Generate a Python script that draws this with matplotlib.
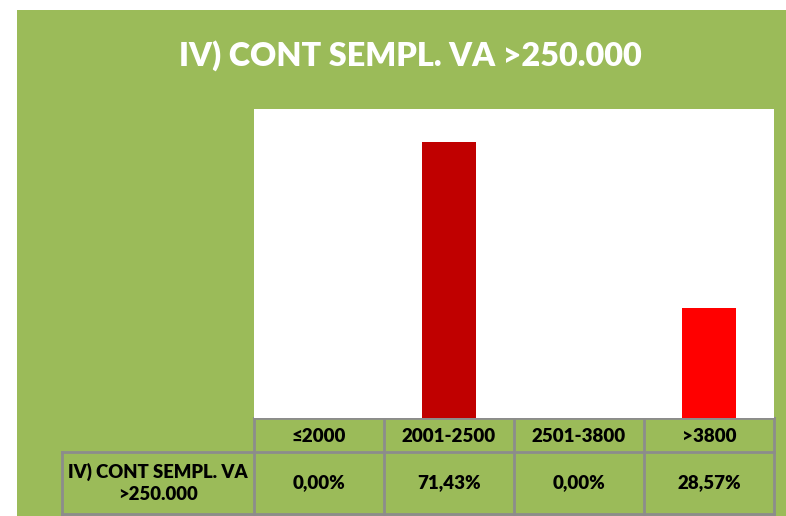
import matplotlib
matplotlib.use("Agg")
import matplotlib.pyplot as plt
from matplotlib.patches import Rectangle

# ---- data ----
title = "IV) CONT SEMPL. VA >250.000"
series_name = "IV) CONT SEMPL. VA\n>250.000"
categories = ["≤2000", "2001-2500", "2501-3800", ">3800"]
values = [0.0, 71.43, 0.0, 28.57]
bar_colors = ["#C00000", "#C00000", "#C00000", "#FF0000"]

W, H = 786, 516
GREEN = "#9BBB59"
GRID = "#8C8C8C"
FONT = ["Lato", "DejaVu Sans"]
WEIGHT = "heavy"

fig = plt.figure(figsize=(W / 100, H / 100), dpi=100)
fig.patch.set_facecolor("white")

# background / table layer in pixel coordinates
bg = fig.add_axes([0, 0, 1, 1], zorder=0)
bg.set_xlim(0, W)
bg.set_ylim(H, 0)
bg.axis("off")
bg.add_patch(Rectangle((17, 10), W - 17, H - 10, facecolor=GREEN, edgecolor="none"))

bg.text(410, 56, title, ha="center", va="center", color="white",
        fontsize=23.3, fontweight=WEIGHT, family=FONT)

# plot area
px0, px1, py0, py1 = 254, 774, 109, 418
ax = fig.add_axes([px0 / W, 1 - py1 / H, (px1 - px0) / W, (py1 - py0) / H], zorder=1)
ax.set_facecolor("white")
x = list(range(len(categories)))
ax.bar(x, values, width=0.41, color=bar_colors)
ax.set_xlim(-0.5, len(categories) - 0.5)
ax.set_ylim(0, 80)
ax.set_xticks([])
ax.set_yticks([])
for s in ax.spines.values():
    s.set_visible(False)

# table
col_w = (px1 - px0) / len(categories)
row1_top, row1_bot, row2_bot = 418, 452, 514
lab_x0 = 62
lw = 2
bg.plot([px0, px1], [row1_top, row1_top], color=GRID, lw=lw, zorder=2)
bg.plot([lab_x0, px1], [row1_bot, row1_bot], color=GRID, lw=lw, zorder=2)
bg.plot([lab_x0, px1], [row2_bot, row2_bot], color=GRID, lw=lw, zorder=2)
bg.plot([lab_x0, lab_x0], [row1_bot, row2_bot], color=GRID, lw=lw, zorder=2)
for i in range(len(categories) + 1):
    xx = px0 + i * col_w
    bg.plot([xx, xx], [row1_top, row2_bot], color=GRID, lw=lw, zorder=2)

for i, (c, v) in enumerate(zip(categories, values)):
    cx = px0 + (i + 0.5) * col_w
    bg.text(cx, (row1_top + row1_bot) / 2 + 1, c, ha="center", va="center",
            fontsize=13.5, fontweight=WEIGHT, family=FONT, color="black")
    bg.text(cx, (row1_bot + row2_bot) / 2, f"{v:.2f}%".replace(".", ","),
            ha="center", va="center", fontsize=13.5, fontweight=WEIGHT,
            family=FONT, color="black")

bg.text((lab_x0 + px0) / 2, (row1_bot + row2_bot) / 2, series_name,
        ha="center", va="center", fontsize=13.3, fontweight=WEIGHT,
        family=FONT, color="black", linespacing=1.35)

fig.savefig("out.png", dpi=100)
